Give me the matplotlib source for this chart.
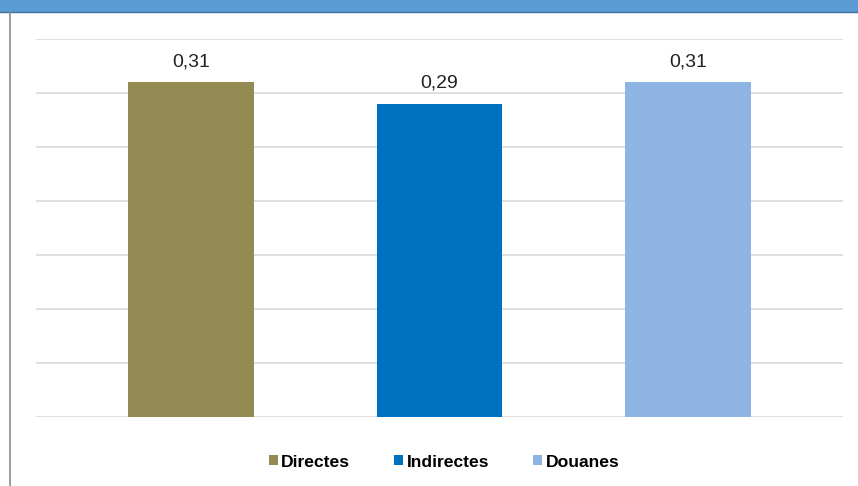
import matplotlib.pyplot as plt
from matplotlib.patches import Patch, Rectangle
from matplotlib.lines import Line2D

plt.rcParams['font.family'] = ['Liberation Sans', 'DejaVu Sans']

# Data
categories = ['Directes', 'Indirectes', 'Douanes']
values = [0.31, 0.29, 0.31]
labels = ['0,31', '0,29', '0,31']
colors = ['#948A54', '#0070C0', '#8DB4E2']

fig = plt.figure(figsize=(8.58, 4.86), dpi=100)
ax = fig.add_axes([36 / 858, 1 - 417 / 486, 807 / 858, 378 / 486])

x = range(len(categories))
ax.bar(x, values, width=0.507, color=colors, zorder=3)

for i, (v, lab) in enumerate(zip(values, labels)):
    ax.text(i, v + 0.011, lab, ha='center', va='bottom', fontsize=14, color='#222222')

ax.set_xlim(-0.624, 2.624)
ax.set_ylim(0, 0.35)
ax.set_yticks([0.05 * k for k in range(8)])
ax.yaxis.grid(True, color='#D9D9D9', linewidth=1.2, zorder=0)
ax.tick_params(left=False, bottom=False, labelleft=False, labelbottom=False)
for side in ax.spines.values():
    side.set_visible(False)

# Legend under the plot
handles = [Patch(facecolor=c, edgecolor='none') for c in colors]
fig.legend(handles, categories, loc='center', bbox_to_anchor=(0.5 + 15 / 858, 1 - 462 / 486),
           ncol=3, frameon=False, prop={'weight': 'bold', 'size': 12.6},
           handlelength=0.52, handleheight=0.52, handletextpad=0.2, columnspacing=2.5)

# Blue header band and left frame line
fig.patches.append(Rectangle((0, 1 - 12 / 486), 1, 12 / 486, transform=fig.transFigure,
                             facecolor='#5B9BD5', edgecolor='none'))
fig.lines.append(Line2D([0, 1], [1 - 12.5 / 486] * 2, transform=fig.transFigure,
                        color='#41719C', linewidth=1))
fig.lines.append(Line2D([9.5 / 858] * 2, [0, 1 - 12 / 486], transform=fig.transFigure,
                        color='#8C8C8C', linewidth=1.2))

fig.savefig('out.png', dpi=100)
